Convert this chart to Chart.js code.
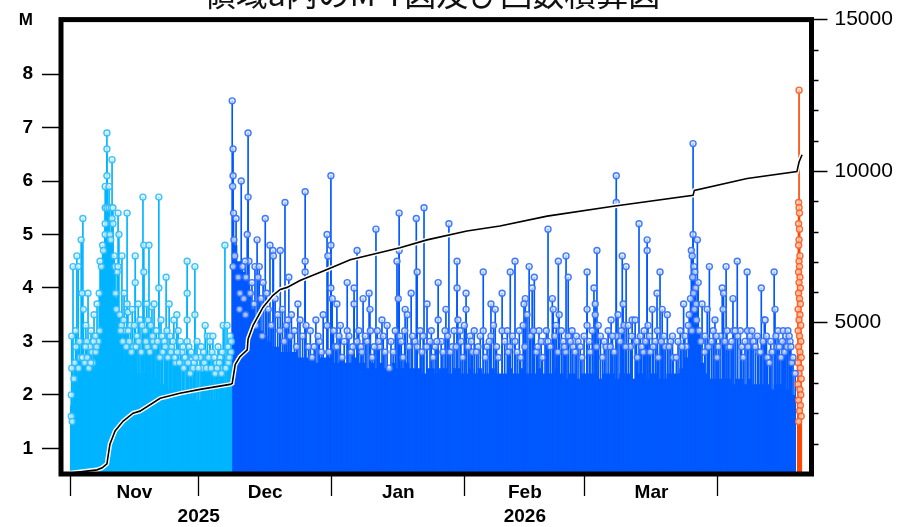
<!DOCTYPE html>
<html>
<head>
<meta charset="utf-8">
<script src="https://cdn.jsdelivr.net/npm/chart.js@4.4.1/dist/chart.umd.min.js"></script>
<style>
  html, body { margin: 0; padding: 0; background: #fff; overflow: hidden; }
  #wrap { position: relative; width: 907px; height: 527px; overflow: hidden; }
  #mt { position: absolute; left: 0; top: 0; }
  #title { position: absolute; left: 0; top: -24px; width: 864px; text-align: center;
           font: 32px/32px "Noto Sans CJK JP", sans-serif; color: #111; white-space: nowrap; }
</style>
</head>
<body>
<div id="wrap">
  <canvas id="mt" width="907" height="527"></canvas>
  <div id="title">領域a内のM-T図及び回数積算図</div>
</div>
<script>
(function () {
    'use strict';

    // x values are days counted from 2025-11-01 00:00
    const monthTicks = [0, 30, 61, 92, 120, 151];
    const monthMids = [15, 45.5, 76.5, 106, 135.5];
    const monthNames = ['Nov', 'Dec', 'Jan', 'Feb', 'Mar'];
    const yearDays = [30, 106];
    const yearNames = ['2025', '2026'];
    const magTicks = [1, 2, 3, 4, 5, 6, 7, 8, 9];
    const countTicks = [5000, 10000, 15000];
    const countMinor = [1000, 2000, 3000, 4000, 6000, 7000, 8000, 9000, 11000, 12000, 13000, 14000];

    // daily level below which the small events form a solid band
    const floorA = [1.8, 2.2, 2.3, 2.4, 2.3, 2.5, 3.0, 4.4, 5.0, 4.8,
        3.8, 3.0, 2.6, 2.5, 2.5, 2.4, 2.4, 2.4, 2.3, 2.3,
        2.2, 2.2, 2.1, 2.1, 2.0, 2.0, 2.0, 2.0, 1.95, 1.9,
        1.9, 1.9, 1.9, 1.9, 1.9, 2.0, 2.1, 2.3];
    const floorB = [4.8, 4.5, 4.3, 4.1, 3.6, 3.4, 3.2, 3.1, 3.0, 2.9,
        2.9, 2.8, 2.8, 2.8, 2.8, 2.7,
        2.7, 2.7, 2.7, 2.6, 2.7, 2.7,
        2.7, 2.6, 2.6, 2.7, 2.6, 2.6, 2.7, 2.6, 2.6, 2.5,
        2.6, 2.5, 2.6, 2.5, 2.5, 2.6, 2.5, 2.5, 2.6, 2.5,
        2.5, 2.5, 2.4, 2.5, 2.5, 2.4, 2.5, 2.5, 2.4, 2.5,
        2.5, 2.4, 2.4, 2.5, 2.4, 2.5, 2.4, 2.4, 2.5, 2.4,
        2.4, 2.4, 2.5, 2.4, 2.4, 2.5, 2.4, 2.4, 2.4, 2.5,
        2.4, 2.4, 2.4, 2.5, 2.4, 2.3, 2.4, 2.4, 2.3, 2.4,
        2.4, 2.4, 2.4, 2.3, 2.4, 2.4, 2.4, 2.3, 2.4, 2.4,
        2.4, 2.3, 2.4, 2.4, 2.3, 2.4, 2.4, 2.3, 2.3, 2.4,
        2.4, 2.4, 2.5, 2.7, 3.0, 3.6, 3.2, 2.6, 2.4, 2.3,
        2.3, 2.3, 2.3, 2.3, 2.2, 2.3, 2.3, 2.2, 2.3, 2.2,
        2.2, 2.2, 2.2, 2.1, 2.2, 2.2, 2.1, 2.1, 2.0];
    const floorC = [1.5];

    // individual events above the band: [day, magnitude]
    const stemsA = [
        [0.4, 3.1], [0.4, 2.5], [0.3, 2.0], [0.3, 1.6], [0.5, 1.5],
        [0.7, 4.4], [1.6, 4.6], [1.9, 4.4], [2.6, 4.9], [3.0, 5.3], [2.8, 3.9], [3.1, 3.6],
        [3.7, 3.3], [4.2, 3.9], [5.1, 2.8], [5.6, 3.5], [6.3, 3.7], [6.8, 3.9], [4.6, 2.9], [5.9, 3.1],
        [1.1, 2.6], [1.4, 2.9], [2.2, 3.0], [2.4, 2.7], [3.4, 2.6], [3.9, 3.0], [4.4, 2.5],
        [4.9, 3.2], [5.3, 2.6], [6.0, 2.8], [6.6, 3.0],
        [8.6, 6.9], [8.6, 6.6], [9.8, 6.4], [8.6, 6.1], [8.2, 5.9], [9.1, 5.9], [8.2, 5.5],
        [8.6, 5.5], [9.1, 5.5], [9.6, 5.5], [10.0, 5.5], [9.8, 5.3], [8.2, 5.2], [10.0, 5.2],
        [8.2, 5.0], [7.6, 4.8], [9.3, 5.0], [7.8, 4.7], [9.5, 4.9], [10.3, 4.6], [7.3, 4.4],
        [10.5, 4.4], [11.0, 4.3], [7.0, 4.5], [10.6, 3.9],
        [11.2, 5.4], [11.4, 5.0], [12.1, 4.6], [11.2, 4.4], [12.6, 3.9], [13.3, 5.4], [13.3, 3.7],
        [13.5, 3.55], [14.5, 3.6], [15.2, 4.6], [15.2, 4.1], [15.9, 3.7], [17.0, 5.7], [17.2, 4.8],
        [17.2, 4.3], [18.4, 4.8], [17.9, 3.7], [19.1, 3.65], [19.6, 3.7], [20.7, 5.7], [20.7, 4.0],
        [21.2, 3.4], [22.4, 4.2], [23.1, 3.7], [23.3, 3.1], [24.2, 3.4], [24.9, 3.5], [25.2, 3.2],
        [26.1, 2.8], [27.3, 4.5], [27.3, 3.9], [27.3, 3.4], [27.3, 3.0], [27.7, 2.9], [28.4, 2.65],
        [29.1, 4.4], [29.1, 3.5], [29.6, 3.0], [30.3, 2.7], [31.5, 3.3], [32.0, 3.1], [32.6, 3.1],
        [32.6, 3.0], [33.3, 3.1], [33.1, 2.8], [34.5, 2.9], [35.0, 2.7], [35.7, 3.3], [36.6, 3.3],
        [36.1, 4.8], [37.3, 3.1],
        [11.6, 3.5], [12.0, 3.3], [12.3, 3.0], [12.9, 3.2], [13.8, 3.0], [14.1, 3.3], [14.8, 2.9],
        [15.6, 3.1], [16.3, 3.4], [16.6, 2.8], [17.5, 3.2], [18.0, 2.9], [18.8, 3.3], [19.4, 3.0],
        [20.1, 3.2], [21.6, 2.8], [22.0, 3.0], [22.8, 2.7], [23.7, 2.9], [24.6, 2.6], [25.7, 3.0],
        [26.5, 2.5], [28.0, 2.4], [28.9, 2.6], [30.8, 2.5], [31.1, 2.8], [33.8, 2.4], [34.1, 2.6],
        [35.3, 2.4], [36.9, 2.6], [37.5, 2.8],
        [0.9, 2.3], [1.3, 3.2], [2.0, 2.5], [2.9, 2.7], [3.6, 2.9], [4.0, 2.7], [4.8, 2.6],
        [5.5, 3.0], [6.2, 2.9], [6.9, 3.2], [10.8, 3.6], [11.8, 3.2], [12.5, 3.4], [13.1, 2.9],
        [13.6, 3.2], [14.3, 2.8], [15.0, 3.3], [15.4, 2.9], [16.0, 3.0], [16.8, 3.3], [17.7, 3.0],
        [18.2, 3.4], [18.6, 2.8], [19.2, 3.1], [19.8, 2.9], [20.4, 3.0], [20.9, 2.7], [21.4, 3.1],
        [22.2, 2.9], [22.6, 3.2], [23.5, 2.8], [24.0, 3.0], [24.4, 2.7], [25.0, 2.8], [25.5, 2.6],
        [26.3, 2.9], [26.8, 2.7], [27.5, 2.6], [28.2, 2.8], [28.7, 2.5], [29.3, 2.7], [29.9, 2.5],
        [30.6, 2.9], [31.3, 2.6], [31.8, 2.5], [32.3, 2.7], [32.9, 2.5], [33.6, 2.7], [34.3, 2.5],
        [34.8, 2.6], [35.5, 2.8], [36.3, 2.5], [36.8, 2.9], [37.1, 2.7], [37.6, 3.0]
    ];
    const stemsB = [
        [37.8, 7.5], [38.0, 6.6], [38.0, 6.1], [37.9, 5.9], [38.1, 5.4], [38.7, 5.3], [39.9, 6.0],
        [41.5, 6.9], [41.5, 5.7], [41.3, 5.0], [38.2, 4.9], [38.0, 4.4], [41.7, 4.5], [40.8, 4.5],
        [43.6, 4.9], [43.1, 4.4], [44.1, 4.4], [43.8, 4.2], [45.0, 4.1], [45.5, 5.3], [46.6, 4.8],
        [47.3, 4.7], [47.4, 4.6], [49.0, 4.7], [50.1, 5.6], [51.0, 4.2], [53.1, 3.7], [54.8, 5.8],
        [54.8, 4.5], [54.8, 4.3],
        [38.4, 4.6], [39.2, 4.2], [39.6, 3.9], [40.2, 4.4], [40.5, 3.8], [41.0, 4.2], [42.0, 3.9],
        [42.4, 4.1], [42.9, 3.7], [44.5, 3.8], [45.8, 3.9], [46.2, 3.6], [47.8, 3.8], [48.4, 3.5],
        [49.5, 3.6], [50.4, 3.3], [51.6, 3.5], [52.3, 3.2], [53.6, 3.4],
        [59.9, 5.0], [60.1, 4.6], [60.8, 6.1], [60.8, 4.8], [60.8, 4.0], [61.1, 3.8], [62.2, 3.7],
        [64.6, 4.1], [66.2, 4.0], [66.2, 3.7], [66.9, 4.7], [68.3, 3.8], [69.7, 3.9], [69.9, 3.6],
        [71.3, 5.1], [76.2, 4.5], [76.7, 5.4], [76.7, 4.7], [76.5, 3.8], [78.1, 3.6], [79.5, 3.9],
        [80.7, 5.3], [80.9, 4.3], [82.5, 5.5], [83.2, 3.7], [85.8, 4.1], [87.6, 3.6], [88.3, 5.2],
        [90.2, 4.5], [90.2, 4.0], [92.3, 3.9], [92.3, 3.6], [96.3, 4.3], [98.1, 3.7], [99.1, 3.6],
        [100.7, 3.9], [102.6, 4.3], [103.7, 4.5], [106.1, 3.8], [105.8, 3.7], [107.0, 4.4],
        [107.7, 4.0], [108.2, 4.2], [111.4, 5.1], [112.4, 3.8], [113.8, 4.5], [115.6, 4.6],
        [116.1, 4.2], [120.5, 4.3], [120.5, 3.6], [122.1, 4.0], [122.8, 4.7], [122.4, 3.7],
        [127.3, 6.1], [127.3, 5.6], [128.7, 4.6], [129.6, 4.4], [128.9, 3.7], [132.6, 5.2],
        [134.5, 4.9], [134.5, 4.7], [135.7, 3.6], [136.8, 3.9], [137.5, 4.3], [138.0, 3.6],
        [145.2, 6.7], [145.2, 5.0], [146.2, 4.9], [144.8, 4.7], [145.0, 4.6], [145.4, 4.4],
        [145.6, 4.3], [145.1, 4.2], [145.8, 4.0], [145.3, 3.9], [145.9, 3.7], [144.6, 3.8],
        [146.4, 4.1], [145.5, 3.6], [146.0, 3.4],
        [147.3, 3.7], [148.5, 3.6], [149.0, 4.4], [152.0, 4.0], [152.9, 4.4], [152.2, 3.6],
        [152.3, 3.9], [154.5, 3.8], [155.5, 4.5], [157.8, 4.3], [161.1, 4.0], [161.8, 3.4],
        [164.1, 4.3], [164.3, 3.6], [162.0, 3.4], [165.0, 3.2], [166.2, 3.2], [166.8, 3.1],
        [167.3, 3.2], [167.8, 3.0], [163.6, 2.8], [169.0, 2.4],
        [50.8, 3.4], [55.0, 3.3], [57.3, 3.4], [59.0, 3.5], [59.9, 3.3], [62.7, 3.1], [64.6, 3.2],
        [66.9, 3.0], [69.2, 3.0], [71.6, 3.2], [72.7, 3.4], [73.4, 2.8], [74.4, 2.5], [76.9, 3.1],
        [78.6, 3.5], [80.4, 3.0], [81.6, 3.2], [83.9, 3.0], [85.1, 2.9], [85.8, 3.4], [86.5, 3.0],
        [87.4, 3.2], [88.6, 2.8], [90.4, 3.4], [90.9, 3.2], [93.2, 3.1], [94.2, 3.2], [95.1, 2.9],
        [96.3, 3.2], [97.2, 2.9], [98.1, 3.1], [99.8, 2.7], [100.7, 3.2], [101.9, 3.2], [103.7, 3.0],
        [104.2, 2.8], [105.6, 3.3], [106.5, 3.5], [109.3, 3.2], [110.7, 3.0], [111.4, 3.0],
        [112.6, 3.6], [113.3, 3.3], [114.0, 3.5], [114.9, 3.0], [116.1, 3.1], [117.2, 2.9],
        [117.7, 2.8], [119.3, 2.7], [120.5, 3.3], [122.4, 3.5], [123.1, 3.3], [124.9, 2.9],
        [125.4, 3.2], [126.1, 3.4], [127.3, 3.1], [127.7, 3.5], [129.1, 3.3], [130.1, 3.3],
        [131.0, 3.4], [131.7, 3.4], [133.6, 2.8], [133.8, 3.2], [134.7, 3.3], [136.4, 3.0],
        [139.2, 3.5], [140.6, 2.7], [141.3, 2.7], [142.2, 3.2], [143.0, 3.7], [144.1, 3.3],
        [149.9, 3.2], [150.3, 3.4], [151.5, 3.1], [154.6, 3.2], [155.6, 3.1], [156.2, 3.2],
        [157.9, 3.2], [158.5, 3.1], [159.2, 3.0], [162.5, 2.7], [164.8, 2.9],
        [55.6, 2.9], [56.4, 2.7], [58.1, 3.0], [60.3, 2.8], [61.8, 2.9], [63.4, 2.7], [65.5, 2.8],
        [67.8, 2.9], [70.4, 2.7], [72.1, 2.9], [75.3, 2.8], [77.6, 2.7], [79.0, 2.9], [82.0, 2.8],
        [84.6, 2.7], [89.1, 2.9], [91.5, 2.7], [93.8, 2.8], [96.8, 2.7], [102.5, 2.9], [105.0, 2.7],
        [108.7, 2.8], [110.1, 2.7], [115.5, 2.8], [118.4, 3.0], [121.2, 2.8], [124.1, 2.7],
        [126.8, 2.8], [130.6, 2.9], [132.2, 2.7], [135.2, 2.8], [137.1, 2.7], [138.7, 2.9],
        [140.0, 3.0], [143.6, 2.9], [147.9, 2.8], [150.8, 2.7], [153.4, 2.9], [156.9, 2.7],
        [160.5, 2.8], [163.0, 2.6], [165.7, 2.7], [168.2, 2.6],
        [39.5, 3.6], [40.9, 3.5], [43.3, 3.3], [44.8, 3.1], [46.9, 3.3], [48.9, 3.2], [49.9, 3.0],
        [51.3, 3.1], [52.8, 2.9], [54.2, 3.1], [56.0, 3.2], [56.9, 2.9], [57.8, 3.1], [58.6, 2.8],
        [61.4, 3.2], [62.2, 2.9], [63.0, 3.3], [63.9, 3.0], [65.0, 3.1], [65.9, 2.9], [67.3, 3.2],
        [68.0, 2.8], [68.8, 3.1], [70.0, 3.2], [70.9, 2.9], [71.9, 3.0], [73.0, 3.1], [73.9, 3.3],
        [74.8, 3.0], [75.8, 3.2], [77.2, 3.0], [78.0, 3.2], [79.8, 3.1], [80.9, 2.9], [82.3, 3.1],
        [83.1, 2.9], [84.2, 3.2], [85.5, 3.0], [86.9, 2.8], [88.0, 3.1], [89.5, 3.2], [90.0, 2.9],
        [91.1, 3.0], [91.9, 3.3], [92.8, 2.9], [93.5, 3.0], [94.7, 2.8], [95.6, 3.1], [97.7, 3.0],
        [98.7, 3.3], [99.4, 2.9], [101.3, 3.0], [102.1, 2.8], [103.1, 3.1], [104.7, 3.2], [106.0, 2.9],
        [107.3, 3.1], [108.0, 3.2], [109.0, 2.9], [109.8, 3.0], [111.0, 3.2], [111.9, 2.9],
        [113.0, 3.1], [113.7, 2.8], [114.5, 3.2], [115.2, 2.9], [116.6, 3.0], [117.0, 3.2],
        [118.0, 3.1], [118.9, 2.9], [119.8, 3.1], [121.0, 3.0], [121.7, 3.2], [122.7, 2.9],
        [123.6, 3.1], [124.5, 3.0], [125.9, 2.9], [126.4, 3.1], [128.2, 3.0], [128.5, 3.2],
        [129.5, 2.9], [130.9, 3.1], [132.0, 3.0], [132.9, 3.1], [133.2, 2.9], [134.1, 3.0],
        [135.0, 3.1], [135.9, 2.9], [136.9, 3.2], [137.8, 3.0], [138.4, 3.1], [139.6, 2.9],
        [140.4, 3.1], [141.7, 3.0], [142.6, 2.9], [143.3, 3.1], [144.3, 3.5], [144.9, 3.2],
        [146.6, 3.2], [147.0, 3.0], [148.0, 3.1], [148.8, 2.9], [149.5, 3.0], [150.6, 3.1],
        [151.1, 2.9], [152.6, 3.0], [153.1, 3.2], [153.8, 2.9], [154.2, 3.0], [155.0, 3.2],
        [156.5, 2.9], [157.3, 3.0], [158.0, 2.9], [158.9, 3.2], [159.7, 2.9], [160.2, 3.1],
        [160.9, 2.8], [161.5, 3.0], [162.3, 3.1], [163.3, 3.0], [164.5, 3.1], [165.3, 2.9],
        [166.0, 3.0], [166.5, 2.8], [167.1, 2.9], [167.6, 3.1], [168.0, 2.9], [168.5, 2.7]
    ];
    const stemsC = [
        [169.9, 7.7], [169.8, 5.6], [169.9, 5.5], [170.0, 5.4], [169.8, 5.2], [170.0, 5.1],
        [169.9, 4.9], [169.8, 4.8], [170.1, 4.6], [169.9, 4.5], [170.0, 4.4], [169.8, 4.3],
        [170.1, 4.2], [169.9, 4.1], [170.2, 4.0], [169.8, 3.9], [170.0, 3.8], [170.2, 3.7],
        [169.7, 3.6], [170.1, 3.5], [169.9, 3.4], [170.3, 3.3], [169.7, 3.2], [170.0, 3.1],
        [170.3, 3.0], [169.8, 2.9], [170.1, 2.8], [170.4, 2.7], [169.7, 2.6], [170.2, 2.5],
        [169.9, 2.4], [170.4, 2.3], [169.7, 2.2], [170.1, 2.1], [170.3, 2.0], [169.8, 1.9],
        [170.2, 1.8], [170.0, 1.7], [170.4, 1.6], [169.8, 1.5]
    ];

    // cumulative number of events (right axis)
    const cumDays = [0, 6.3, 7.5, 8.6, 9.3, 10.5, 12.4, 14.7, 16.3, 21.0, 25.6, 30.3, 37.3,
        37.8, 38.5, 39.6, 41.3, 41.5, 42.7, 45.0, 47.3, 49.0, 50.6, 53.6, 59.9, 65.3, 76.9,
        83.2, 92.5, 100.2, 111.2, 126.6, 145.2, 145.5, 157.8, 169.4, 169.9, 170.6];
    const cumCounts = [30, 137, 203, 333, 987, 1422, 1748, 2010, 2075, 2500, 2663, 2794, 2958,
        2990, 3611, 3873, 4101, 4461, 4918, 5507, 5899, 6095, 6160, 6389, 6748, 7075, 7467,
        7729, 8023, 8186, 8513, 8840, 9199, 9363, 9755, 9984, 10300, 10540];

    const COLORS = {
        a: { solid: '#00b4ff', ring: 'rgba(50,190,255,0.95)', fill: 'rgba(225,245,255,0.75)' },
        b: { solid: '#0058ff', ring: 'rgba(55,115,255,0.95)', fill: 'rgba(215,228,255,0.75)' },
        c: { solid: '#ff4800', ring: 'rgba(255,95,35,0.95)', fill: 'rgba(255,222,205,0.75)' }
    };

    function stepArea(values, firstDay, start, end) {
        const pts = values.map((v, i) => ({ x: i === 0 ? start : firstDay + i, y: v }));
        pts.push({ x: end, y: values[values.length - 1] });
        return pts;
    }

    function toXY(pairs) {
        return pairs.map(([d, m]) => ({ x: d, y: m }));
    }

    function seriesDatasets(stems, floorPts, col) {
        return [
            {
                type: 'line', data: floorPts, stepped: true, fill: 'start',
                backgroundColor: col.solid, borderWidth: 0, pointRadius: 0, order: 5
            },
            {
                type: 'bar', data: toXY(stems), backgroundColor: col.solid,
                barThickness: 1, grouped: false, borderWidth: 0, order: 4
            },
            {
                type: 'scatter', data: toXY(stems), pointStyle: 'circle', pointRadius: 3,
                pointBorderWidth: 1.4, pointBorderColor: col.ring, pointBackgroundColor: col.fill,
                pointHoverRadius: 3, order: 3
            }
        ];
    }

    const cumPts = cumDays.map((d, i) => ({ x: d, y: cumCounts[i] }));

    const xTickValues = Array.from(new Set(monthTicks.concat(monthMids, yearDays))).sort((a, b) => a - b);

    function xLabel(v) {
        const m = monthNames[monthMids.indexOf(v)] || '';
        const y = yearNames[yearDays.indexOf(v)] || '';
        return y ? [m, y] : m;
    }

    const framePlugin = {
        id: 'frame',
        afterDraw(chart) {
            const { ctx, chartArea: a, scales } = chart;
            ctx.save();
            ctx.strokeStyle = '#000';
            ctx.lineWidth = 1.5;
            countMinor.forEach(v => {
                const y = Math.round(scales.y2.getPixelForValue(v)) + 0.5;
                ctx.beginPath();
                ctx.moveTo(a.right, y);
                ctx.lineTo(a.right + 7, y);
                ctx.stroke();
            });
            ctx.lineWidth = 5;
            ctx.strokeRect(a.left, a.top, a.right - a.left, a.bottom - a.top);
            ctx.restore();
        }
    };

    Chart.defaults.font.family = '"Liberation Sans", Arial, sans-serif';
    Chart.defaults.color = '#000';

    const datasets = []
        .concat(seriesDatasets(stemsA, stepArea(floorA, 0, 0, 37.8), COLORS.a))
        .concat(seriesDatasets(stemsB, stepArea(floorB, 38, 37.8, 169.0), COLORS.b))
        .concat(seriesDatasets(stemsC, stepArea(floorC, 169.6, 169.6, 170.6), COLORS.c))
        .concat([
            {
                type: 'line', data: cumPts, yAxisID: 'y2', borderColor: '#fff', borderWidth: 4.5,
                pointRadius: 0, fill: false, order: 2
            },
            {
                type: 'line', data: cumPts, yAxisID: 'y2', borderColor: '#000', borderWidth: 1.6,
                pointRadius: 0, fill: false, order: 1
            }
        ]);

    new Chart(document.getElementById('mt'), {
        type: 'bar',
        data: { datasets },
        options: {
            responsive: false,
            animation: false,
            devicePixelRatio: 1,
            layout: { padding: { top: 14, left: 0, right: 0, bottom: 0 } },
            plugins: { legend: { display: false }, tooltip: { enabled: false } },
            scales: {
                x: {
                    type: 'linear', min: -2.1, max: 172.8, offset: false,
                    afterBuildTicks: s => { s.ticks = xTickValues.map(v => ({ value: v })); },
                    afterFit: s => { s.height = 53; },
                    border: { display: false },
                    grid: {
                        offset: false, drawOnChartArea: false, drawTicks: true, tickLength: 22,
                        tickWidth: 1.3,
                        tickColor: c => (c.tick && monthTicks.includes(c.tick.value)) ? '#000' : 'rgba(0,0,0,0)'
                    },
                    ticks: {
                        autoSkip: false, maxRotation: 0, padding: -16,
                        font: { size: 19, weight: 'bold', lineHeight: 1.3 },
                        callback: v => xLabel(v)
                    }
                },
                y: {
                    type: 'linear', position: 'left', min: 0.52, max: 9.02,
                    afterBuildTicks: s => { s.ticks = magTicks.map(v => ({ value: v })); },
                    afterFit: s => { s.width = 61; },
                    border: { display: false },
                    grid: {
                        drawOnChartArea: false, tickLength: 19, tickWidth: 1.5,
                        tickColor: c => (c.tick && c.tick.value === 9) ? 'rgba(0,0,0,0)' : '#000'
                    },
                    ticks: {
                        padding: 9,
                        font: c => (c.tick && c.tick.value === 9) ? { size: 17, weight: 'bold' } : { size: 19, weight: 'bold' },
                        callback: v => v === 9 ? 'M' : String(v)
                    }
                },
                y2: {
                    type: 'linear', position: 'right', min: 0, max: 15000,
                    afterBuildTicks: s => { s.ticks = countTicks.map(v => ({ value: v })); },
                    afterFit: s => { s.width = 95.5; },
                    border: { display: false },
                    grid: { drawOnChartArea: false, tickLength: 16, tickWidth: 1.5, tickColor: '#000' },
                    ticks: { padding: 7, font: { size: 21 }, callback: v => String(v) }
                }
            }
        },
        plugins: [framePlugin]
    });
})();
</script>
</body>
</html>
